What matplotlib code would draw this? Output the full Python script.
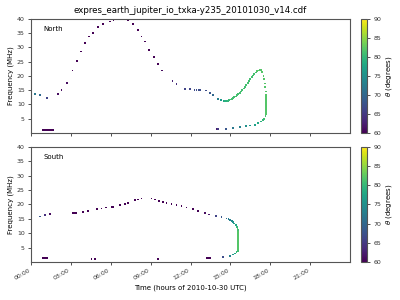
import matplotlib
matplotlib.use('Agg')
from matplotlib import pyplot as plt

title = 'expres_earth_jupiter_io_txka-y235_20101030_v14.cdf'
hour_ticks = [0, 3, 6, 9, 12, 15, 18, 21]
hour_labels = ['00:00', '03:00', '06:00', '09:00', '12:00', '15:00', '18:00', '21:00']
freq_ticks = [5, 10, 15, 20, 25, 30, 35, 40]

# North hemisphere: time (h), frequency (MHz), theta (deg)
north_t = [0.0, 0.3, 0.68, 1.18,
           0.9, 1.05, 1.2, 1.35, 1.5, 1.65,
           2.05, 2.3, 2.68, 3.13, 3.48, 3.76, 4.06, 4.38, 4.68, 5.06,
           5.44, 5.94, 6.2, 6.44, 6.7, 6.94, 7.3, 7.69, 8.07, 8.32,
           8.57, 8.9, 9.25, 9.57, 9.87, 10.65, 10.95, 11.58, 11.95,
           12.3, 12.45, 12.6, 12.7, 13.16, 13.46, 13.7, 14.08, 14.3,
           14.5, 14.6, 14.7, 14.8, 14.9, 15.0, 15.1, 15.2, 15.3, 15.4,
           15.5, 15.6, 15.7, 15.8, 15.9, 16.0, 16.1, 16.2, 16.3, 16.4,
           16.5, 16.6, 16.7, 16.8, 16.9, 17.0, 17.1, 17.2, 17.3, 17.4,
           17.5, 17.55, 17.6, 17.63, 17.66, 17.68, 17.7, 17.7, 17.7,
           17.7, 17.7, 17.7, 17.7, 17.7, 17.7, 17.69, 17.65, 17.55,
           17.45, 17.3, 17.1, 16.84, 16.5, 16.2, 15.7, 15.2, 14.65, 14.08,
           13.95]
north_f = [14.0, 13.6, 13.2, 12.2,
           1.15, 1.15, 1.15, 1.15, 1.15, 1.15,
           13.7, 15.1, 17.5, 21.9, 25.3, 28.6, 31.5, 33.8, 35.0, 37.1,
           38.25, 39.1, 39.6, 39.9, 39.95, 39.9, 39.4, 38.25, 36.2, 33.8,
           32.1, 29.1, 26.6, 24.25, 21.9, 18.3, 17.1, 15.5, 15.4,
           15.1, 15.1, 15.1, 15.1, 14.9, 14.0, 13.2, 12.0, 11.6,
           11.2, 11.2, 11.25, 11.3, 11.5, 11.7, 11.9, 12.2, 12.5, 12.8,
           13.2, 13.6, 14.0, 14.5, 15.0, 15.6, 16.2, 16.9, 17.5, 18.2,
           18.9, 19.5, 20.1, 20.7, 21.2, 21.6, 21.9, 22.1, 22.0, 21.3,
           20.0, 18.8, 17.3, 16.0, 14.5, 13.2, 12.5, 11.8, 11.1,
           10.4, 9.7, 9.0, 8.3, 7.6, 7.0, 6.5, 6.0, 5.0,
           4.5, 4.0, 3.4, 2.9, 2.6, 2.3, 2.0, 1.75, 1.5, 1.4,
           1.35]
north_theta = [74, 72, 70, 66,
               60, 60, 60, 60, 60, 60,
               61, 61, 61, 60, 60, 60, 60, 60, 60, 60,
               60, 60, 60, 60, 60, 60, 60, 60, 60, 60,
               60, 60, 60, 60, 61, 63, 64, 66, 66,
               67, 67, 67, 67, 67, 68, 70, 73, 76,
               78, 79, 79, 80, 80, 81, 81, 81, 81, 81,
               81, 81, 81, 81, 81, 81, 81, 81, 81, 81,
               81, 81, 81, 81, 81, 82, 82, 82, 82, 82,
               82, 82, 82, 82, 82, 82, 82, 82, 82,
               82, 82, 82, 82, 82, 82, 82, 81, 81,
               80, 79, 78, 77, 76, 75, 73, 72, 68, 65,
               62]

# South hemisphere
south_t = [0.0, 0.68, 1.05, 1.43,
           0.93, 1.05, 1.18,
           3.13, 3.25, 3.38, 3.93, 4.3, 4.56, 4.81, 4.94, 5.3, 5.64,
           6.07, 6.2, 6.7, 7.07, 7.3, 7.8, 8.07, 8.32,
           9.07, 9.32, 9.57, 9.65, 9.95, 10.2, 10.57, 10.95, 11.33, 11.7,
           12.16, 12.58, 13.08, 13.2, 13.33, 13.4, 13.46, 13.9, 14.34,
           14.7, 14.85, 14.96, 15.1, 15.2, 15.3, 15.4, 15.48, 15.54,
           15.57, 15.59, 15.6, 15.6, 15.6, 15.6, 15.6, 15.6, 15.6,
           15.6, 15.6, 15.6, 15.59, 15.58, 15.55, 15.5, 15.46, 15.35,
           15.2, 14.96, 14.46]
south_f = [15.5, 15.8, 16.3, 16.6,
           1.35, 1.35, 1.35,
           16.9, 16.9, 16.9, 17.4, 17.8, 1.0, 1.0, 18.4, 18.6, 18.96,
           19.2, 19.2, 19.7, 20.1, 20.55, 21.5, 21.7, 22.1,
           22.1, 21.7, 1.0, 21.25, 20.9, 20.55, 20.1, 19.75, 19.4, 18.96,
           18.4, 17.8, 16.9, 1.35, 1.35, 16.5, 1.35, 15.9, 15.5,
           15.1, 14.85, 14.55, 14.25, 13.96, 13.4, 12.8, 12.2, 11.66,
           11.1, 10.5, 9.9, 9.3, 8.75, 8.1, 7.5, 6.9, 6.45,
           5.9, 5.4, 4.9, 4.7, 4.3, 3.9, 3.6, 3.33, 2.95,
           2.6, 2.15, 1.6]
south_theta = [74, 68, 64, 61,
               60, 60, 60,
               60, 60, 60, 60, 60, 60, 60, 60, 60, 60,
               60, 60, 60, 60, 60, 60, 60, 60,
               60, 60, 60, 60, 60, 60, 60, 60, 60, 60,
               60, 60, 61, 60, 60, 62, 60, 66, 68,
               71, 72, 73, 74, 75, 77, 78, 80, 81,
               81, 82, 82, 82, 82, 82, 82, 82, 82,
               82, 82, 82, 82, 82, 81, 81, 80, 78,
               76, 73, 67]

plt.rcParams['font.size'] = 5
edge = '#555555'

fig = plt.figure(figsize=(4, 3), dpi=100)
ax1 = fig.add_axes([0.0775, 0.557, 0.7975, 0.38])
ax2 = fig.add_axes([0.0775, 0.127, 0.7975, 0.383])
cax1 = fig.add_axes([0.9025, 0.557, 0.015, 0.38])
cax2 = fig.add_axes([0.9025, 0.127, 0.015, 0.383])

panels = [(ax1, cax1, north_t, north_f, north_theta, 'North'),
          (ax2, cax2, south_t, south_f, south_theta, 'South')]

for ax, cax, t, f, th, name in panels:
	sc = ax.scatter(t, f, c=th, cmap='viridis', vmin=60, vmax=90,
	                marker='s', s=1.6, linewidths=0)
	ax.set_xlim(0, 24)
	ax.set_ylim(0, 40)
	ax.set_yticks(freq_ticks)
	ax.set_xticks(hour_ticks)
	ax.set_ylabel('Frequency (MHz)', fontsize=5, labelpad=2)
	ax.text(0.038, 0.91, name, transform=ax.transAxes, va='center', fontsize=5)
	for sp in ax.spines.values():
		sp.set_color(edge)
	ax.tick_params(colors='#333333', length=2.5, width=0.6, labelsize=4.5, pad=2)
	cb = fig.colorbar(sc, cax=cax)
	cb.set_ticks([60, 65, 70, 75, 80, 85, 90])
	cb.set_label(r'$\theta$ (degrees)', fontsize=5, labelpad=2)
	cb.outline.set_edgecolor(edge)
	cax.tick_params(colors='#333333', length=2.5, width=0.6, labelsize=4.5, pad=2)

ax1.set_xticklabels([])
ax2.set_xticklabels(hour_labels, rotation=30, ha='right')
ax2.set_xlabel('Time (hours of 2010-10-30 UTC)', fontsize=5, labelpad=2)
ax1.set_title(title, fontsize=6.2, pad=4)

fig.savefig('out.png', dpi=100)
